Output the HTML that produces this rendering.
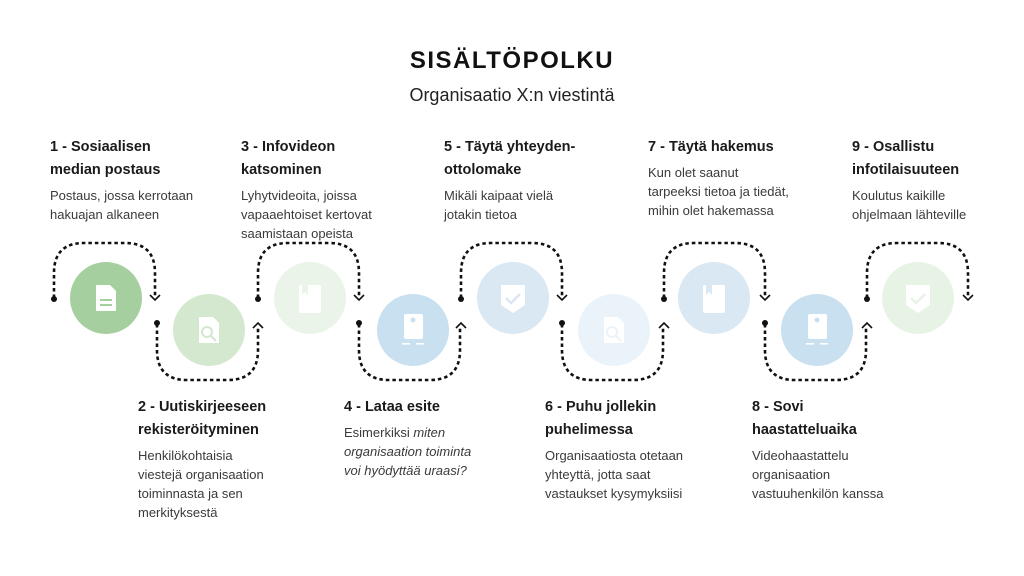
<!DOCTYPE html>
<html><head><meta charset="utf-8"><style>
body{margin:0;background:#fff;}
svg{display:block;font-family:"Liberation Sans",sans-serif;}
.h{font-size:14.5px;font-weight:bold;fill:#1a1a1a;}
.b{font-size:13px;fill:#3a3a3a;}
.d{fill:none;stroke:#111;stroke-width:2.6;stroke-dasharray:3.5 3;}
.a{fill:none;stroke:#111;stroke-width:1.6;}
.ic{fill:#fff;}
</style></head><body>
<svg width="1024" height="576" viewBox="0 0 1024 576">
<rect width="1024" height="576" fill="#fff"/>
<text x="512" y="68" text-anchor="middle" font-size="24" font-weight="bold" letter-spacing="1.5" fill="#111">SISÄLTÖPOLKU</text>
<text x="512" y="101" text-anchor="middle" font-size="18" fill="#222">Organisaatio X:n viestintä</text>

<text class="h" x="50" y="151">1 - Sosiaalisen</text><text class="h" x="50" y="174">median postaus</text>
<text class="b" x="50" y="200">Postaus, jossa kerrotaan</text><text class="b" x="50" y="219">hakuajan alkaneen</text>

<text class="h" x="241" y="151">3 - Infovideon</text><text class="h" x="241" y="174">katsominen</text>
<text class="b" x="241" y="200">Lyhytvideoita, joissa</text><text class="b" x="241" y="219">vapaaehtoiset kertovat</text><text class="b" x="241" y="238">saamistaan opeista</text>

<text class="h" x="444" y="151">5 - Täytä yhteyden-</text><text class="h" x="444" y="174">ottolomake</text>
<text class="b" x="444" y="200">Mikäli kaipaat vielä</text><text class="b" x="444" y="219">jotakin tietoa</text>

<text class="h" x="648" y="151">7 - Täytä hakemus</text>
<text class="b" x="648" y="177">Kun olet saanut</text><text class="b" x="648" y="196">tarpeeksi tietoa ja tiedät,</text><text class="b" x="648" y="215">mihin olet hakemassa</text>

<text class="h" x="852" y="151">9 - Osallistu</text><text class="h" x="852" y="174">infotilaisuuteen</text>
<text class="b" x="852" y="200">Koulutus kaikille</text><text class="b" x="852" y="219">ohjelmaan lähteville</text>

<text class="h" x="138" y="411">2 - Uutiskirjeeseen</text><text class="h" x="138" y="434">rekisteröityminen</text>
<text class="b" x="138" y="460">Henkilökohtaisia</text><text class="b" x="138" y="479">viestejä organisaation</text><text class="b" x="138" y="498">toiminnasta ja sen</text><text class="b" x="138" y="517">merkityksestä</text>

<text class="h" x="344" y="411">4 - Lataa esite</text>
<text class="b" x="344" y="437">Esimerkiksi <tspan font-style="italic">miten</tspan></text><text class="b" x="344" y="456" font-style="italic">organisaation toiminta</text><text class="b" x="344" y="475" font-style="italic">voi hyödyttää uraasi?</text>

<text class="h" x="545" y="411">6 - Puhu jollekin</text><text class="h" x="545" y="434">puhelimessa</text>
<text class="b" x="545" y="460">Organisaatiosta otetaan</text><text class="b" x="545" y="479">yhteyttä, jotta saat</text><text class="b" x="545" y="498">vastaukset kysymyksiisi</text>

<text class="h" x="752" y="411">8 - Sovi</text><text class="h" x="752" y="434">haastatteluaika</text>
<text class="b" x="752" y="460">Videohaastattelu</text><text class="b" x="752" y="479">organisaation</text><text class="b" x="752" y="498">vastuuhenkilön kanssa</text>

<circle cx="106" cy="298" r="36" fill="#a6cf9f"/>
<circle cx="209" cy="330" r="36" fill="#d3e8cf"/>
<circle cx="310" cy="298" r="36" fill="#eaf4e8"/>
<circle cx="413" cy="330" r="36" fill="#c9e0f0"/>
<circle cx="513" cy="298" r="36" fill="#dae8f4"/>
<circle cx="614" cy="330" r="36" fill="#ebf3fa"/>
<circle cx="714" cy="298" r="36" fill="#dae8f4"/>
<circle cx="817" cy="330" r="36" fill="#c9e0f0"/>
<circle cx="918" cy="298" r="36" fill="#e7f3e5"/>

<g class="ic">
<path d="M96 285h14l6 6v20h-20z"/><rect x="100" y="299" width="12" height="2" fill="#a6cf9f"/><rect x="100" y="304" width="12" height="2" fill="#a6cf9f"/>
<path d="M199 317h14l6 6v20h-20z"/><circle cx="207" cy="332" r="5" fill="none" stroke="#d3e8cf" stroke-width="2"/><path d="M211 336l5 5" stroke="#d3e8cf" stroke-width="2"/>
<rect x="299" y="285" width="22" height="28" rx="2"/><path d="M302 285v10l3-3 3 3v-10" fill="#eaf4e8"/>
<rect x="404" y="314" width="19" height="25" rx="2"/><circle cx="413" cy="320" r="2.5" fill="#c9e0f0"/><rect x="402" y="343" width="8" height="1.6"/><rect x="416" y="343" width="8" height="1.6"/>
<path d="M501 285h24v20l-12 8-12-8z"/><path d="M506 298l5 5 9-9" fill="none" stroke="#dae8f4" stroke-width="2.5"/>
<path d="M604 317h14l6 6v20h-20z"/><circle cx="612" cy="332" r="5" fill="none" stroke="#ebf3fa" stroke-width="2"/><path d="M616 336l5 5" stroke="#ebf3fa" stroke-width="2"/>
<rect x="703" y="285" width="22" height="28" rx="2"/><path d="M706 285v10l3-3 3 3v-10" fill="#dae8f4"/>
<rect x="808" y="314" width="19" height="25" rx="2"/><circle cx="817" cy="320" r="2.5" fill="#c9e0f0"/><rect x="806" y="343" width="8" height="1.6"/><rect x="820" y="343" width="8" height="1.6"/>
<path d="M906 285h24v20l-12 8-12-8z"/><path d="M911 298l5 5 9-9" fill="none" stroke="#e7f3e5" stroke-width="2.5"/>
</g>

<g>
<path class="d" d="M54 298V273q0-30 30-30h41q30 0 30 30v24"/>
<path class="d" d="M258 298V273q0-30 30-30h41q30 0 30 30v24"/>
<path class="d" d="M461 298V273q0-30 30-30h41q30 0 30 30v24"/>
<path class="d" d="M664 298V273q0-30 30-30h41q30 0 30 30v24"/>
<path class="d" d="M867 298V273q0-30 30-30h41q30 0 30 30v24"/>
</g>
<g>
<path class="d" d="M157 324V350q0 30 30 30h41q30 0 30-30v-24"/>
<path class="d" d="M359 324V350q0 30 30 30h41q30 0 30-30v-24"/>
<path class="d" d="M562 324V350q0 30 30 30h41q30 0 30-30v-24"/>
<path class="d" d="M765 324V350q0 30 30 30h41q30 0 30-30v-24"/>
</g>
<g fill="#111">
<circle cx="54" cy="299" r="3"/><circle cx="258" cy="299" r="3"/><circle cx="461" cy="299" r="3"/><circle cx="664" cy="299" r="3"/><circle cx="867" cy="299" r="3"/>
<circle cx="157" cy="323" r="3"/><circle cx="359" cy="323" r="3"/><circle cx="562" cy="323" r="3"/><circle cx="765" cy="323" r="3"/>
</g>
<g>
<path class="a" d="M150 295l5 5 5-5"/><path class="a" d="M354 295l5 5 5-5"/><path class="a" d="M557 295l5 5 5-5"/><path class="a" d="M760 295l5 5 5-5"/><path class="a" d="M963 295l5 5 5-5"/>
<path class="a" d="M253 328l5-5 5 5"/><path class="a" d="M456 328l5-5 5 5"/><path class="a" d="M659 328l5-5 5 5"/><path class="a" d="M862 328l5-5 5 5"/>
</g>
</svg>
</body></html>
